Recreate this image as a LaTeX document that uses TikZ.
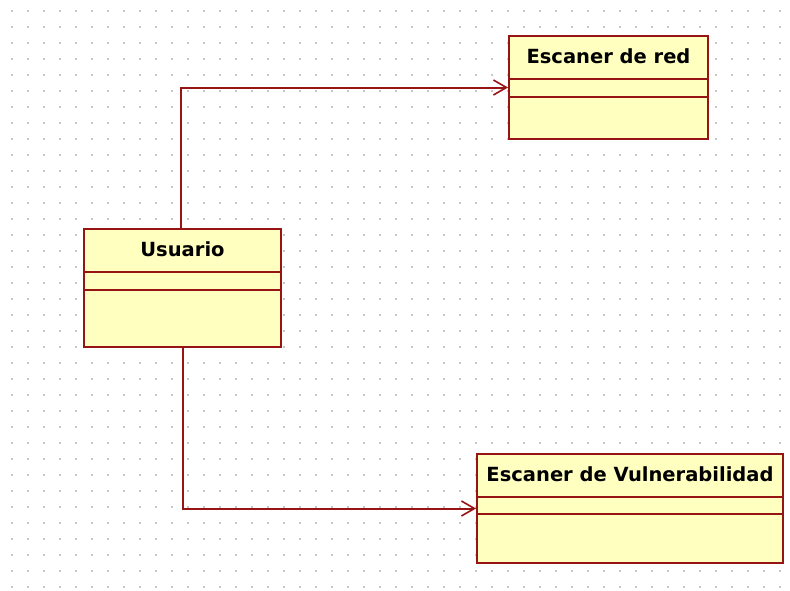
\documentclass[tikz,border=0pt]{standalone}
\usepackage{fontspec}
\setmainfont{DejaVu Sans}
\usetikzlibrary{arrows.meta,calc}
\definecolor{umlline}{RGB}{150,20,20}
\definecolor{umlfill}{RGB}{255,255,192}
\definecolor{griddot}{RGB}{200,200,200}
\tikzset{
  classbox/.style={draw=umlline, fill=umlfill, line width=2pt, rectangle,
    inner sep=0pt, anchor=north west},
  classname/.style={font=\fontsize{19.5}{22}\selectfont\bfseries, text=black},
  divider/.style={draw=umlline, line width=2pt},
  assoc/.style={draw=umlline, line width=2pt,
    -{Straight Barb[length=13pt,width=15pt,line width=1.6pt]}},
}
\begin{document}
\begin{tikzpicture}[x=1pt,y=-1pt]
  \useasboundingbox (0,0) rectangle (790,590);
  \fill[white] (0,0) rectangle (790,590);
  % dotted drawing grid
  \foreach \i in {0,...,48}{
    \foreach \j in {0,...,36}{
      \fill[griddot] ({12+16*\i-0.8},{11+16*\j-0.8}) rectangle ++(1.6,1.6);
    }
  }
  % class boxes
  \node[classbox, minimum width=199pt, minimum height=103pt] (red) at (508,35) {};
  \node[classbox, minimum width=197pt, minimum height=118pt] (usr) at (83,228) {};
  \node[classbox, minimum width=306pt, minimum height=109pt] (vul) at (476,453) {};
  % compartments
  \draw[divider] ($(red.north west)+(0,44)$) -- ($(red.north east)+(0,44)$);
  \draw[divider] ($(red.north west)+(0,62)$) -- ($(red.north east)+(0,62)$);
  \draw[divider] ($(usr.north west)+(0,44)$) -- ($(usr.north east)+(0,44)$);
  \draw[divider] ($(usr.north west)+(0,62)$) -- ($(usr.north east)+(0,62)$);
  \draw[divider] ($(vul.north west)+(0,44)$) -- ($(vul.north east)+(0,44)$);
  \draw[divider] ($(vul.north west)+(0,61)$) -- ($(vul.north east)+(0,61)$);
  % class names
  \node[classname] (redname) at ($(red.north)+(0,21)$) {Escaner de red};
  \node[classname] (usrname) at ($(usr.north)+(0,21)$) {Usuario};
  \node[classname] (vulname) at ($(vul.north)+(0,21)$) {Escaner de Vulnerabilidad};
  % associations
  \draw[assoc] ($(usr.north)+(-1.5,0)$) |- (red.west);
  \draw[assoc] (usr.south) |- (vul.west);
\end{tikzpicture}
\end{document}
